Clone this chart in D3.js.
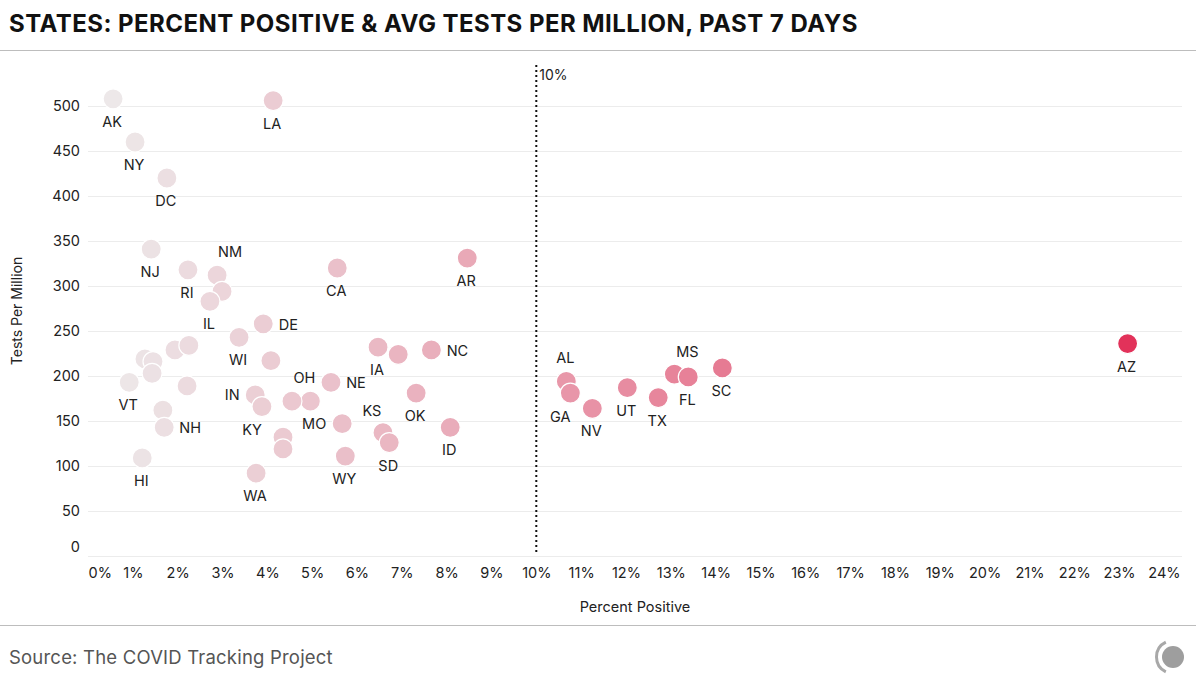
<!DOCTYPE html>
<html>
<head>
<meta charset="utf-8">
<script src="https://cdn.jsdelivr.net/npm/d3@7/dist/d3.min.js"></script>
<style>
  html, body { margin: 0; padding: 0; background: #fff; }
  svg { display: block; font-family: Inter, "Noto Sans", sans-serif; }
</style>
</head>
<body>
<svg id="chart" width="1196" height="687"></svg>
<script>
// ---- data ----
const states = ["AK","LA","NY","DC","NJ","NM","RI","MI","IL","DE","WI","MD","CT","MA","ME","PA","MN","VT","WV","MT","NH","HI","IN","KY","WA","OH","VA","OR","CO","NE","MO","CA","AR","IA","TN","NC","OK","KS","SD","ID","WY","AL","GA","NV","UT","TX","MS","FL","SC","AZ"];
const percentPositive = [0.56,4.13,1.05,1.76,1.41,2.88,2.23,2.99,2.72,3.91,3.37,4.08,1.94,2.25,1.27,1.45,1.43,0.92,2.21,1.67,1.70,1.21,3.73,3.88,3.75,4.96,4.55,4.35,4.35,5.42,5.67,5.56,8.46,6.47,6.92,7.66,7.32,6.58,6.72,8.08,5.74,10.67,10.76,11.25,12.03,12.72,13.08,13.39,14.15,23.19];
const testsPerMillion = [508,506,460,420,341,312,318,294,283,258,243,217,229,234,219,216,203,193,189,162,143,109,179,166,92,172,172,132,119,193,147,320,331,232,224,229,181,137,126,143,111,194,181,164,187,176,202,199,209,236];
const labeled = ["AK","LA","NY","DC","NJ","NM","RI","IL","DE","WI","VT","NH","HI","IN","KY","WA","OH","NE","MO","CA","AR","IA","NC","OK","KS","SD","ID","WY","AL","GA","NV","UT","TX","MS","FL","SC","AZ"];
const xTicks = d3.range(0, 25, 1);
const yTicks = d3.range(0, 550, 50);

// label placement (layout only)
const labelPlace = {
  NM: [13, -23], DE: [25, 1], NH: [26, 1], IN: [-23, 0], KY: [-10, 23], OH: [-6, -23],
  NE: [25, 1], MO: [-28, 0], NC: [26, 1], KS: [-11, -22], AL: [-1, -23], GA: [-10, 24],
  MS: [13, -22]
};

const svg = d3.select("#chart");
const W = 1196, H = 687;
const m = { left: 88, right: 1182, top: 62, bottom: 556 };

const x = d3.scaleLinear().domain([0, 24]).range([m.left, m.left + 24 * 44.83]);
const y = d3.scaleLinear().domain([0, 500]).range([m.bottom, m.bottom - 450]);
const color = d3.scaleLinear().domain([0, 23.2]).range(["#ededed", "#e2325a"]);

// title
svg.append("text").attr("x", 9).attr("y", 32)
  .attr("font-size", 24).attr("font-weight", 700).attr("fill", "#111")
  .attr("letter-spacing", 0.45)
  .text("STATES: PERCENT POSITIVE & AVG TESTS PER MILLION, PAST 7 DAYS");
svg.append("line").attr("x1", 0).attr("x2", W).attr("y1", 50.5).attr("y2", 50.5)
  .attr("stroke", "#bdbdbd").attr("stroke-width", 1);

// gridlines
const gy = svg.append("g")
  .attr("transform", `translate(${m.left},0)`)
  .call(d3.axisLeft(y).tickValues(yTicks).tickSize(-(m.right - m.left)).tickFormat(""));
gy.select(".domain").remove();
gy.selectAll("line").attr("stroke", "#ececec").attr("stroke-width", 1);

// y tick labels
const yl = svg.append("g")
  .attr("transform", `translate(${m.left},0)`)
  .call(d3.axisLeft(y).tickValues(yTicks).tickSize(0).tickPadding(8));
yl.select(".domain").remove();
yl.selectAll("text").attr("font-size", 14.5).attr("fill", "#222").attr("font-family", "Inter, sans-serif")
  .attr("dy", d => d === 0 ? "-0.3em" : "0.32em");

// x tick labels
const xl = svg.append("g")
  .attr("transform", `translate(0,${m.bottom})`)
  .call(d3.axisBottom(x).tickValues(xTicks).tickSize(0).tickPadding(12).tickFormat(d => d + "%"));
xl.select(".domain").remove();
xl.selectAll("text").attr("font-size", 14.5).attr("fill", "#222").attr("font-family", "Inter, sans-serif")
  .attr("text-anchor", d => d === 0 ? "start" : "middle");

// axis titles
svg.append("text").attr("x", (m.left + m.right) / 2).attr("y", 612)
  .attr("text-anchor", "middle").attr("font-size", 14.5).attr("fill", "#222")
  .text("Percent Positive");
svg.append("text").attr("transform", "translate(22,311) rotate(-90)")
  .attr("text-anchor", "middle").attr("font-size", 14).attr("fill", "#222")
  .text("Tests Per Million");

// 10% reference line
svg.append("line").attr("x1", x(10)).attr("x2", x(10)).attr("y1", 65).attr("y2", 553)
  .attr("stroke", "#111").attr("stroke-width", 2).attr("stroke-dasharray", "2,3");
svg.append("text").attr("x", x(10) + 3).attr("y", 80)
  .attr("font-size", 14).attr("fill", "#222").text("10%");

// points
const data = states.map((s, i) => ({ s, p: percentPositive[i], t: testsPerMillion[i] }));
svg.append("g").selectAll("circle").data(data).join("circle")
  .attr("cx", d => x(d.p)).attr("cy", d => y(d.t)).attr("r", 10)
  .attr("fill", d => color(d.p)).attr("stroke", "#fff").attr("stroke-width", 1.2);

// labels
svg.append("g").selectAll("text").data(data.filter(d => labeled.includes(d.s))).join("text")
  .attr("x", d => x(d.p) + (labelPlace[d.s] ? labelPlace[d.s][0] : -1))
  .attr("y", d => y(d.t) + (labelPlace[d.s] ? labelPlace[d.s][1] : 23))
  .attr("dy", "0.35em")
  .attr("text-anchor", "middle").attr("font-size", 14.5).attr("fill", "#222")
  .text(d => d.s);

// footer
svg.append("line").attr("x1", 0).attr("x2", W).attr("y1", 625.5).attr("y2", 625.5)
  .attr("stroke", "#bdbdbd").attr("stroke-width", 1);
svg.append("text").attr("x", 9).attr("y", 664)
  .attr("font-size", 18.5).attr("fill", "#555").attr("letter-spacing", 0.2)
  .text("Source: The COVID Tracking Project");

// logo
const lg = svg.append("g").attr("transform", "translate(1173,657)");
lg.append("circle").attr("r", 11).attr("fill", "#9e9e9e");
lg.append("path")
  .attr("d", d3.arc()({ innerRadius: 15, outerRadius: 18, startAngle: -Math.PI + 0.45, endAngle: -0.45 }))
  .attr("fill", "#a8a8a8");
</script>
</body>
</html>
